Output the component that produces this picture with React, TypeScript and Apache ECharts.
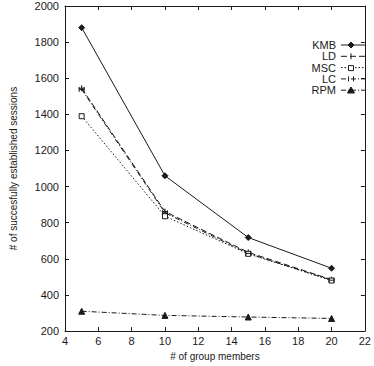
import React, { useEffect, useRef } from "react";
import * as echarts from "echarts";

const members = [5, 10, 15, 20];
const kmb = [1880, 1060, 718, 548];
const ld = [1545, 862, 636, 485];
const msc = [1390, 836, 628, 480];
const lc = [1538, 855, 630, 482];
const rpm = [310, 287, 278, 270];

const xTicks = { min: 4, max: 22, interval: 2 };
const yTicks = { min: 200, max: 2000, interval: 200 };

const FONT = "Liberation Sans, Arial, sans-serif";
const INK = "#1a1a1a";

type S = { name: string; data: number[]; symbol: string; size: number; dash: any; fill: boolean };

const seriesDefs: S[] = [
  { name: "KMB", data: kmb, symbol: "diamond", size: 6, dash: "solid", fill: true },
  { name: "LD", data: ld, symbol: "path://M0,5L10,5M5,0L5,10", size: 6, dash: [6, 3], fill: false },
  { name: "MSC", data: msc, symbol: "rect", size: 5, dash: [1.5, 2], fill: false },
  { name: "LC", data: lc, symbol: "path://M0,0L0,10M10,0L10,10M0,5L10,5", size: 5, dash: [5, 2, 1, 2], fill: false },
  { name: "RPM", data: rpm, symbol: "triangle", size: 6, dash: [5, 2, 1, 2], fill: true },
];

export default function App() {
  const ref = useRef<HTMLDivElement>(null);
  useEffect(() => {
    if (!ref.current) return;
    const chart = echarts.init(ref.current, undefined, { renderer: "svg" });
    const gridLeft = 58, gridTop = 6, gridW = 310, gridH = 334;

    const legendGraphics: any[] = [];
    seriesDefs.forEach((s, i) => {
      const y = 45 + i * 11.3;
      legendGraphics.push({
        type: "text",
        x: 336,
        y: y,
        style: { text: s.name, fill: INK, font: `11px ${FONT}`, textAlign: "right", textVerticalAlign: "middle" },
      });
      legendGraphics.push({
        type: "line",
        shape: { x1: 341, y1: y, x2: 366, y2: y },
        style: { stroke: INK, lineWidth: 1, lineDash: s.dash === "solid" ? null : s.dash },
      });
    });
    const mx = 351;
    legendGraphics.push({ type: "polygon", shape: { points: [[mx, 42], [mx + 3, 45], [mx, 48], [mx - 3, 45]] }, style: { fill: INK, stroke: INK } });
    legendGraphics.push({ type: "line", shape: { x1: mx, y1: 53.3, x2: mx, y2: 59.3 }, style: { stroke: INK, lineWidth: 1 } });
    legendGraphics.push({ type: "rect", shape: { x: mx - 2.5, y: 65.6, width: 5, height: 5 }, style: { fill: "#fff", stroke: INK, lineWidth: 1 } });
    legendGraphics.push({ type: "line", shape: { x1: mx - 2.5, y1: 76.4, x2: mx - 2.5, y2: 81.4 }, style: { stroke: INK, lineWidth: 1 } });
    legendGraphics.push({ type: "line", shape: { x1: mx + 2.5, y1: 76.4, x2: mx + 2.5, y2: 81.4 }, style: { stroke: INK, lineWidth: 1 } });
    legendGraphics.push({ type: "polygon", shape: { points: [[mx, 87], [mx + 3.5, 93], [mx - 3.5, 93]] }, style: { fill: INK, stroke: INK } });

    const axisCommon = {
      axisLine: { show: true, onZero: false, lineStyle: { color: INK, width: 1 } },
      axisTick: { show: true, inside: true, length: 4, lineStyle: { color: INK } },
      splitLine: { show: false },
    };
    const plain = (v: number) => String(v);

    chart.setOption({
      animation: false,
      backgroundColor: "#fff",
      grid: { left: gridLeft, top: gridTop, width: gridW, height: gridH, containLabel: false },
      xAxis: [
        {
          type: "value", ...xTicks, position: "bottom", ...axisCommon,
          axisLabel: { color: INK, fontSize: 11, fontFamily: FONT, margin: 4, formatter: plain },
          name: "# of group members", nameLocation: "middle", nameGap: 17,
          nameTextStyle: { color: INK, fontSize: 10, fontFamily: FONT },
        },
        { type: "value", ...xTicks, position: "top", ...axisCommon, axisLabel: { show: false } },
      ],
      yAxis: [
        {
          type: "value", ...yTicks, position: "left", ...axisCommon,
          axisLabel: { color: INK, fontSize: 11, fontFamily: FONT, margin: 6, formatter: plain },
          name: "# of succesfully established sessions", nameLocation: "middle", nameGap: 47,
          nameTextStyle: { color: INK, fontSize: 10, fontFamily: FONT },
        },
        { type: "value", ...yTicks, position: "right", ...axisCommon, axisLabel: { show: false } },
      ],
      series: seriesDefs.map((s) => ({
        type: "line",
        name: s.name,
        data: members.map((m, i) => [m, s.data[i]]),
        symbol: s.symbol,
        symbolSize: s.size,
        showSymbol: true,
        lineStyle: { color: INK, width: 1, type: s.dash },
        itemStyle: { color: s.fill ? INK : "#fff", borderColor: INK, borderWidth: 1 },
        emphasis: { disabled: true },
      })),
      graphic: legendGraphics,
    });
    return () => chart.dispose();
  }, []);
  return <div ref={ref} style={{ position: "fixed", left: 0, top: 0, width: 374, height: 366 }} />;
}
